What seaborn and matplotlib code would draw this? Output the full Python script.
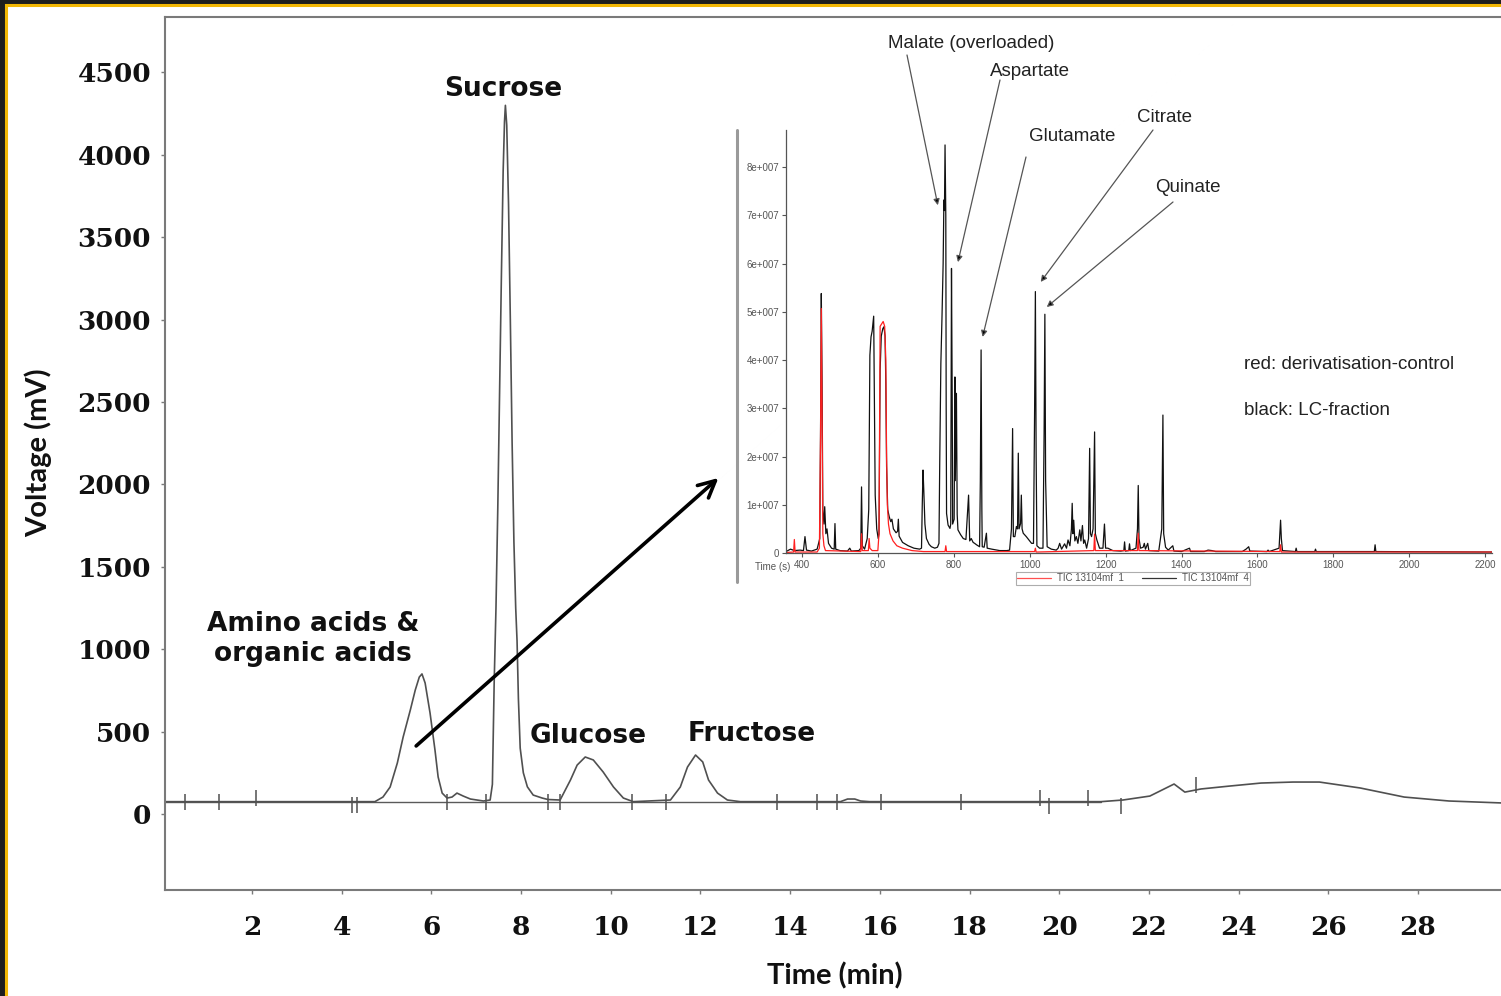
import matplotlib
matplotlib.use("Agg")
import matplotlib.pyplot as plt
from matplotlib.patches import Rectangle
from matplotlib.lines import Line2D
import seaborn as sns

# HPLC trace (time in min, signal in mV)
hplc_time = [0.06, 4.74, 4.92, 5.08, 5.24, 5.37, 5.53, 5.64, 5.73, 5.79,
             5.86, 5.97, 6.08, 6.15, 6.24, 6.35, 6.46, 6.57, 6.71, 6.87,
             7.16, 7.31, 7.36, 7.40, 7.44, 7.48, 7.52, 7.56, 7.60, 7.63,
             7.65, 7.68, 7.72, 7.76, 7.80, 7.84, 7.88, 7.91, 7.94, 7.98,
             8.05, 8.14, 8.27, 8.47, 8.60, 8.87, 9.10, 9.25, 9.43, 9.61,
             9.83, 10.06, 10.28, 10.50, 11.33, 11.55, 11.71, 11.89, 12.05, 12.18,
             12.38, 12.60, 12.89, 15.12, 15.28, 15.44, 15.57, 15.77, 20.93, 21.42,
             22.02, 22.56, 22.80, 23.16, 23.81, 24.50, 25.21, 25.80, 26.71, 27.69,
             28.69, 29.88]
hplc_mv = [75, 75, 103, 164, 309, 467, 631, 752, 831, 850,
           795, 613, 388, 225, 127, 97, 103, 127, 109, 91,
           79, 85, 180, 800, 1250, 1850, 2550, 3250, 3900, 4200,
           4300, 4180, 3700, 3000, 2250, 1650, 1250, 1050, 700, 400,
           250, 165, 115, 97, 88, 85, 206, 297, 346, 328,
           255, 164, 97, 75, 85, 164, 285, 358, 316, 206,
           127, 85, 75, 75, 91, 91, 79, 75, 75, 85,
           109, 182, 133, 152, 170, 188, 194, 194, 158, 103,
           79, 67]
baseline_time = [0.06, 20.93]
baseline_mv = [75, 75]
# integration marks on the HPLC trace
mark_time = [0.50, 1.26, 2.09, 4.23, 4.34, 6.35, 7.22, 8.61, 8.87, 10.48, 11.22,
             13.70, 14.59, 15.04, 16.02, 17.80, 19.57, 19.77, 20.64, 21.37, 23.05]
mark_mv = [75, 75, 100, 55, 55, 75, 75, 75, 75, 75, 75,
           75, 75, 75, 75, 75, 100, 50, 100, 50, 176]

peak_labels = ["Sucrose", "Amino acids &\norganic acids", "Glucose", "Fructose"]

# GC-MS inset, time in s, TIC in units of 1e7
gc_black_time = [358, 370, 380, 395, 404, 408, 412, 425, 440, 447, 449, 451, 453, 455,
                 458, 460, 463, 466, 470, 478, 485, 487, 489, 500, 520, 526, 530, 550,
                 555, 557, 559, 565, 572, 576, 579, 582, 585, 589, 591, 593, 597, 601,
                 603, 606, 609, 613, 616, 619, 621, 623, 626, 630, 634, 637, 641, 648,
                 652, 654, 656, 665, 680, 695, 710, 715, 717, 719, 721, 724, 728, 735,
                 741, 750, 757, 761, 763, 766, 769, 772, 774, 775.5, 777, 779, 780, 781,
                 785, 790, 792, 794, 796, 797, 801, 803, 804, 807, 809, 811, 818, 825,
                 832, 839, 842, 846, 851, 855, 860, 868, 870, 872, 874, 875, 880, 886,
                 888, 900, 921, 940, 947, 952, 955, 957, 961, 965, 968, 970, 972, 976,
                 978, 980, 983, 991, 998, 1005, 1010, 1013, 1015, 1017, 1019, 1026, 1035, 1038,
                 1040, 1042, 1046, 1057, 1070, 1075, 1079, 1084, 1092, 1097, 1101, 1106, 1110, 1112,
                 1114, 1116, 1119, 1123, 1127, 1132, 1135, 1139, 1142, 1145, 1150, 1155, 1158, 1160,
                 1163, 1167, 1169, 1171, 1173, 1177, 1184, 1193, 1197, 1200, 1206, 1219, 1240, 1248,
                 1250, 1252, 1261, 1263, 1265, 1280, 1284, 1286, 1288, 1292, 1299, 1302, 1305, 1311,
                 1314, 1340, 1348, 1351, 1353, 1358, 1365, 1377, 1380, 1400, 1421, 1424, 1460, 1470,
                 1480, 1490, 1560, 1570, 1577, 1580, 1625, 1628, 1631, 1657, 1661, 1663, 1666, 1700,
                 1702, 1704, 1751, 1753, 1755, 1908, 1910, 1912, 2218]
gc_black_tic = [0.03, 0.08, 0.05, 0.06, 0.05, 0.34, 0.06, 0.04, 0.08, 0.3, 2.5, 5.38, 3.6, 0.9,
                0.6, 0.96, 0.4, 0.5, 0.2, 0.1, 0.08, 0.61, 0.08, 0.05, 0.04, 0.1, 0.04, 0.05,
                0.1, 1.37, 0.15, 0.08, 0.3, 0.9, 4.1, 4.48, 4.6, 4.91, 3.0, 1.2, 0.5, 0.3,
                0.4, 3.8, 4.5, 4.65, 4.69, 4.5, 3.5, 1.8, 0.9, 0.75, 0.65, 0.7, 0.5, 0.42,
                0.45, 0.7, 0.35, 0.22, 0.15, 0.1, 0.08, 0.1, 1.0, 1.72, 1.3, 0.6, 0.3, 0.18,
                0.13, 0.1, 0.12, 0.2, 1.86, 3.93, 4.9, 6.0, 7.32, 7.1, 8.46, 7.0, 3.0, 0.82,
                0.58, 0.51, 0.6, 5.9, 3.0, 0.6, 0.7, 3.65, 1.5, 3.31, 0.8, 0.48, 0.38, 0.3,
                0.28, 1.2, 0.25, 0.3, 0.22, 0.2, 0.17, 0.13, 1.5, 4.21, 0.9, 0.13, 0.12, 0.41,
                0.1, 0.08, 0.05, 0.05, 0.06, 0.5, 2.58, 0.34, 0.34, 0.55, 0.5, 2.07, 0.5, 0.61,
                1.2, 0.5, 0.41, 0.34, 0.27, 0.2, 0.2, 3.0, 5.42, 2.0, 0.15, 0.1, 0.1, 2.5,
                4.95, 1.5, 0.13, 0.08, 0.06, 0.1, 0.2, 0.08, 0.19, 0.1, 0.27, 0.15, 0.5, 1.03,
                0.4, 0.68, 0.25, 0.34, 0.2, 0.48, 0.25, 0.57, 0.2, 0.27, 0.1, 0.3, 2.17, 0.4,
                0.34, 0.5, 1.5, 2.51, 0.4, 0.27, 0.1, 0.1, 0.6, 0.1, 0.1, 0.05, 0.04, 0.05,
                0.23, 0.04, 0.05, 0.19, 0.05, 0.1, 0.5, 1.4, 0.3, 0.1, 0.12, 0.2, 0.08, 0.2,
                0.05, 0.04, 0.5, 2.86, 0.4, 0.12, 0.06, 0.15, 0.04, 0.03, 0.1, 0.03, 0.03, 0.06,
                0.05, 0.03, 0.03, 0.08, 0.13, 0.04, 0.03, 0.06, 0.03, 0.1, 0.68, 0.3, 0.05, 0.03,
                0.1, 0.03, 0.03, 0.08, 0.03, 0.03, 0.17, 0.03, 0.02]
gc_red_time = [358, 378, 380, 382, 440, 446, 449, 451, 453, 455, 458, 462, 555, 557,
               559, 575, 577, 579, 585, 600, 603, 606, 610, 614, 618, 621, 623, 625,
               628, 632, 640, 650, 665, 690, 720, 777, 779, 781, 1013, 1015, 1017, 1169,
               1171, 1173, 1284, 1286, 1288, 1659, 1661, 1663, 2218]
gc_red_tic = [0.01, 0.02, 0.28, 0.02, 0.02, 0.1, 2.4, 5.07, 3.0, 0.4, 0.15, 0.05, 0.03, 0.4,
              0.05, 0.05, 0.3, 0.1, 0.05, 0.05, 0.4, 4.7, 4.75, 4.8, 4.7, 4.0, 2.0, 1.0,
              0.6, 0.4, 0.25, 0.15, 0.1, 0.05, 0.03, 0.03, 0.15, 0.03, 0.03, 0.1, 0.02, 0.05,
              0.39, 0.05, 0.05, 0.41, 0.05, 0.03, 0.17, 0.02, 0.02]
gc_yticks = [0, 1, 2, 3, 4, 5, 6, 7, 8]
gc_ytick_labels = ["0", "1e+007", "2e+007", "3e+007", "4e+007", "5e+007",
                   "6e+007", "7e+007", "8e+007"]
gc_xticks = [400, 600, 800, 1000, 1200, 1400, 1600, 1800, 2000, 2200]
compound_names = ["Malate (overloaded)", "Aspartate", "Glutamate", "Citrate", "Quinate"]
compound_time = [758, 811, 876, 1029, 1045]
compound_tic = [7.21, 6.03, 4.48, 5.62, 5.10]
legend_labels = ["TIC 13104mf  1", "TIC 13104mf  4"]

W, H = 1501, 996
def fx(px):
    return px / W
def fy(py):
    return 1 - py / H

sns.set_style("white")
fig = plt.figure(figsize=(W / 100, H / 100), dpi=100, facecolor="#1e1e1e")
fig.add_artist(Rectangle((fx(5.5), -0.05), 1.1, (H - 5.5) / H + 0.05, transform=fig.transFigure,
                         fc="white", ec="#f2b705", lw=2.2, zorder=-10))

# ---- main HPLC chromatogram ----
ax = fig.add_axes([fx(165), fy(890), 1 - fx(165) + 0.003, (890 - 17) / H])
ax.set_facecolor("white")
sns.lineplot(x=baseline_time, y=baseline_mv, ax=ax, color="#5a5a5a", lw=1.0,
             estimator=None, sort=False)
sns.lineplot(x=hplc_time, y=hplc_mv, ax=ax, color="#505050", lw=1.2,
             estimator=None, sort=False)
ax.plot(mark_time, mark_mv, ls="none", marker="|", ms=12, mew=1.1, color="#505050")
ax.set_xlim(0.06, 29.95)
ax.set_ylim(-461, 4836)
spine_col = "#7a7a7a"
for s in ["left", "top", "bottom"]:
    ax.spines[s].set_color(spine_col)
    ax.spines[s].set_linewidth(1.5)
ax.spines["right"].set_visible(False)
xt = list(range(2, 30, 2))
yt = list(range(0, 5000, 500))
ax.set_xticks(xt, labels=[str(v) for v in xt], fontfamily="DejaVu Serif",
              fontweight="bold", fontsize=19, color="#111111")
ax.set_yticks(yt, labels=[str(v) for v in yt], fontfamily="DejaVu Serif",
              fontweight="bold", fontsize=19, color="#111111")
ax.tick_params(axis="both", direction="out", length=3, width=1, color=spine_col)
ax.tick_params(axis="x", pad=15, bottom=True)
ax.tick_params(axis="y", pad=7, left=True)
ax.set_xlabel("")
ax.set_ylabel("")

lab_font = dict(fontfamily="DejaVu Sans", fontweight="bold", fontsize=19, color="#111111")
fig.text(fx(503), fy(96), peak_labels[0], ha="center", va="baseline", **lab_font)
fig.text(fx(313), fy(661), peak_labels[1], ha="center", va="baseline",
         linespacing=1.2, multialignment="center", **lab_font)
fig.text(fx(588), fy(743), peak_labels[2], ha="center", va="baseline", **lab_font)
fig.text(fx(752), fy(741), peak_labels[3], ha="center", va="baseline", **lab_font)

fig.text(fx(835), fy(984), "Time (min)", ha="center", va="baseline",
         fontfamily="Lato", fontweight="bold", fontsize=21, color="#111111")
fig.text(fx(38), fy(453), "Voltage (mV)", ha="center", va="center", rotation=90,
         fontfamily="Lato", fontweight="bold", fontsize=21, color="#111111")

ax.annotate("", xy=(12.40, 2039), xytext=(5.66, 413),
            arrowprops=dict(arrowstyle="->", color="black", lw=2.6,
                            mutation_scale=30, shrinkA=0, shrinkB=0))

# ---- GC-MS inset ----
fig.add_artist(Line2D([fx(737), fx(737)], [fy(130), fy(582)], color="#9a9a9a", lw=2.2))
ax_in = fig.add_axes([fx(786), fy(553), (1492 - 786) / W, (553 - 130) / H])
ax_in.set_facecolor("white")
sns.lineplot(x=gc_black_time, y=gc_black_tic, ax=ax_in, color="#111111", lw=0.9,
             estimator=None, sort=False)
sns.lineplot(x=gc_red_time, y=gc_red_tic, ax=ax_in, color="#ff2020", lw=0.9,
             estimator=None, sort=False)
ax_in.set_xlim(358, 2218)
ax_in.set_ylim(0, 8.77)
for s in ["left", "bottom"]:
    ax_in.spines[s].set_color("#555555")
    ax_in.spines[s].set_linewidth(0.9)
for s in ["top", "right"]:
    ax_in.spines[s].set_visible(False)
small = dict(fontfamily="Liberation Sans", fontsize=7, color="#555555")
ax_in.set_yticks(gc_yticks, labels=gc_ytick_labels, **small)
ax_in.set_xticks(gc_xticks, labels=[str(v) for v in gc_xticks], **small)
ax_in.tick_params(axis="both", direction="out", length=3, width=0.8, color="#555555", pad=2)
ax_in.tick_params(axis="x", bottom=True)
ax_in.tick_params(axis="y", left=True)
ax_in.set_xlabel("")
ax_in.set_ylabel("")
fig.text(fx(773), fy(567), "Time (s)", ha="center", va="center", **small)

handles = [Line2D([], [], color="#ff5050", lw=0.9), Line2D([], [], color="#333333", lw=0.9)]
leg = ax_in.legend(handles, legend_labels, loc="upper left",
                   bbox_to_anchor=(fx(1016), fy(572)), bbox_transform=fig.transFigure,
                   ncol=2, frameon=True, fancybox=False, edgecolor="#999999",
                   prop={"family": "Liberation Sans", "size": 7}, handlelength=3.5,
                   borderpad=0.15, columnspacing=1.8, handletextpad=0.6, borderaxespad=0)
for t in leg.get_texts():
    t.set_color("#555555")
leg.get_frame().set_linewidth(0.8)

arrow_start = [(907, 55), (1000, 80), (1026, 157), (1153, 130), (1173, 202)]
text_pos = [(971, 48), (1030, 76), (1072, 141), (1164, 122), (1188, 192)]
ann_font = dict(fontfamily="Liberation Sans", fontsize=13.5, color="#222222")
for name, t, v, (sx, sy), (tx, ty) in zip(compound_names, compound_time, compound_tic,
                                          arrow_start, text_pos):
    ax_in.annotate("", xy=(t, v), xycoords="data", xytext=(sx, H - sy),
                   textcoords="figure pixels", annotation_clip=False,
                   arrowprops=dict(arrowstyle="-|>", ec="#555555", fc="black", lw=0.9,
                                   mutation_scale=9, shrinkA=0, shrinkB=0))
    fig.text(fx(tx), fy(ty), name, ha="center", va="baseline", **ann_font)

fig.text(fx(1244), fy(369), "red: derivatisation-control", ha="left", va="baseline", **ann_font)
fig.text(fx(1244), fy(415), "black: LC-fraction", ha="left", va="baseline", **ann_font)

fig.savefig("out.png", dpi=100, facecolor=fig.get_facecolor())
